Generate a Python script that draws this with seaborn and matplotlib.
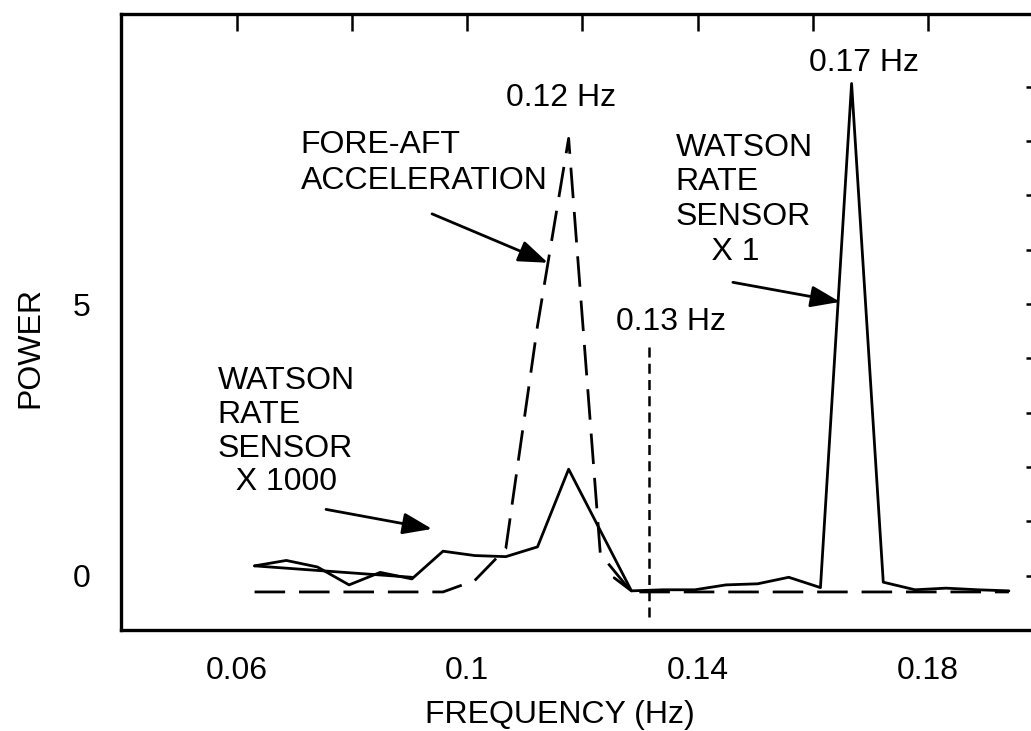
import matplotlib
matplotlib.use('Agg')
import matplotlib.pyplot as plt
import seaborn as sns
import numpy as np
import pandas as pd

# frequency grid of the spectra (Hz)
freq = [0.0631, 0.0686, 0.0740, 0.0795, 0.0849, 0.0904, 0.0958, 0.1013, 0.1067,
        0.1122, 0.1176, 0.1231, 0.1285, 0.1340, 0.1395, 0.1449, 0.1504, 0.1558,
        0.1613, 0.1667, 0.1722, 0.1777, 0.1831, 0.1886, 0.1940]

# fore-aft acceleration (dashed)
fore_aft = [-0.3, -0.3, -0.3, -0.3, -0.3, -0.3, -0.3, -0.09, 0.5, 4.6, 8.05, 0.4,
            -0.3, -0.3, -0.3, -0.3, -0.3, -0.3, -0.3, -0.3, -0.3, -0.3, -0.3, -0.3, -0.3]

# watson rate sensor x 1000 (low frequency part)
x1000_freq = [0.0631, 0.0686, 0.0740, 0.0795, 0.0849, 0.0904, 0.0958, 0.1013,
              0.1067, 0.1122, 0.1176, 0.1231, 0.1285]
x1000_power = [0.18, 0.28, 0.16, -0.17, 0.06, -0.06, 0.45, 0.37, 0.35, 0.53, 1.96, 0.83, -0.28]

# watson rate sensor x 1 (two pieces)
x1_low_freq = [0.0631, 0.0904]
x1_low_power = [0.18, -0.03]
x1_freq = [0.1255, 0.1285, 0.1340, 0.1395, 0.1449, 0.1504, 0.1558, 0.1613, 0.1667,
           0.1722, 0.1777, 0.1831, 0.1886, 0.1940]
x1_power = [-0.04, -0.28, -0.26, -0.26, -0.17, -0.15, -0.03, -0.22, 9.06, -0.12,
            -0.26, -0.23, -0.26, -0.28]

# 0.13 Hz marker
marker_freq = 0.1315
marker_span = (-0.76, 4.21)

xticks = [0.04, 0.06, 0.08, 0.1, 0.12, 0.14, 0.16, 0.18, 0.2]
xticklabels = ['', '0.06', '', '0.1', '', '0.14', '', '0.18', '']
yticks = [0, 1, 2, 3, 4, 5, 6, 7, 8, 9]
yticklabels = ['0', '', '', '', '', '5', '', '', '', '']

sns.set_style('white')
plt.rcParams['font.family'] = ['Liberation Sans', 'DejaVu Sans']
plt.rcParams['text.color'] = 'black'
plt.rcParams['axes.labelcolor'] = 'black'

fig = plt.figure(figsize=(10.31, 7.31), dpi=100)
ax = fig.add_axes([0.1178, 0.1382, 0.8943, 0.8427])

lw = 2.0
sns.lineplot(x=freq, y=fore_aft, ax=ax, color='black', linewidth=lw,
             linestyle=(0, (11, 5)))
sns.lineplot(x=x1000_freq, y=x1000_power, ax=ax, color='black', linewidth=lw)
sns.lineplot(x=x1_low_freq, y=x1_low_power, ax=ax, color='black', linewidth=lw)
sns.lineplot(x=x1_freq, y=x1_power, ax=ax, color='black', linewidth=lw)
ax.vlines(marker_freq, marker_span[0], marker_span[1], color='black',
          linewidth=1.8, linestyle=(0, (4, 2.5)))

ax.set_xlim(0.04, 0.2)
ax.set_ylim(-1, 10.34)
ax.set_xticks(xticks)
ax.set_xticklabels(xticklabels)
ax.set_yticks(yticks)
ax.set_yticklabels(yticklabels)
ax.tick_params(direction='in', length=12, width=1.8, top=True, right=True,
               labelsize=23, color='black', labelcolor='black')
ax.tick_params(axis='x', pad=19)
ax.tick_params(axis='y', pad=22)
for s in ax.spines.values():
    s.set_linewidth(2.4)
    s.set_color('black')

ax.set_xlabel('FREQUENCY (Hz)', fontsize=23, labelpad=10, x=0.475)
ax.set_ylabel('POWER', fontsize=23, labelpad=20, y=0.459)

fs = 23
ax.text(0.1163, 8.79, '0.12 Hz', fontsize=fs, ha='center', va='center')
ax.text(0.1689, 9.44, '0.17 Hz', fontsize=fs, ha='center', va='center')
ax.text(0.1353, 4.67, '0.13 Hz', fontsize=fs, ha='center', va='center')
ax.text(0.0711, 7.60, 'FORE-AFT\nACCELERATION', fontsize=fs, ha='left', va='center',
        linespacing=1.25)
ax.text(0.1362, 6.92, 'WATSON\nRATE\nSENSOR\n    X 1', fontsize=fs, ha='left',
        va='center', linespacing=1.2)
ax.text(0.0567, 2.65, 'WATSON\nRATE\nSENSOR\n  X 1000', fontsize=fs, ha='left',
        va='center', linespacing=1.16)

arrow = dict(arrowstyle='-|>,head_length=0.6,head_width=0.22', mutation_scale=30,
             color='black', lw=2, shrinkA=0, shrinkB=0)
ax.annotate('', xy=(0.1140, 5.76), xytext=(0.0939, 6.66), arrowprops=arrow)
ax.annotate('', xy=(0.1647, 5.04), xytext=(0.1461, 5.40), arrowprops=arrow)
ax.annotate('', xy=(0.0939, 0.86), xytext=(0.0755, 1.22), arrowprops=arrow)

fig.savefig('out.png', dpi=100)
